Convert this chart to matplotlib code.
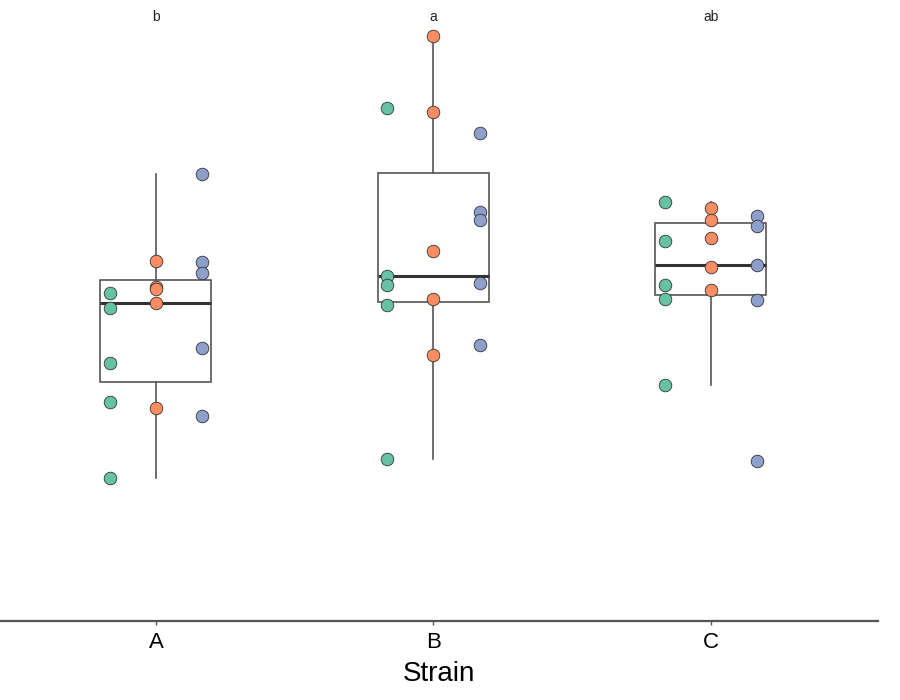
import numpy as np
import matplotlib
matplotlib.use('Agg')
import matplotlib.pyplot as plt

plt.rcParams['font.family'] = ['Liberation Sans', 'DejaVu Sans']

strains = ['A', 'B', 'C']
letters = ['b', 'a', 'ab']
groups = ['g1', 'g2', 'g3']
group_colors = ['#66c2a5', '#fc8d62', '#8da0cb']

# measurements per strain, one list per group
vals_A = [
    [6.56, 6.26, 5.16, 4.38, 2.86],
    [7.20, 6.68, 6.64, 6.36, 4.26],
    [8.94, 7.18, 6.96, 5.46, 4.10],
]
vals_B = [
    [10.25, 6.90, 6.72, 6.31, 3.24],
    [11.69, 10.17, 7.40, 6.43, 5.31],
    [9.75, 8.17, 8.02, 6.75, 5.52],
]
vals_C = [
    [8.38, 7.60, 6.71, 6.43, 4.72],
    [8.25, 8.01, 7.65, 7.07, 6.62],
    [8.09, 7.90, 7.11, 6.41, 3.19],
]
all_vals = [vals_A, vals_B, vals_C]

fig = plt.figure(figsize=(9, 7), dpi=100)
ax = fig.add_axes([0, 0.1129, 0.9756, 0.8871])

pooled = [np.concatenate([np.array(g) for g in v]) for v in all_vals]
pos = np.arange(len(strains))
ax.boxplot(pooled, positions=pos, widths=0.4, showfliers=False,
           patch_artist=True,
           boxprops=dict(facecolor='none', edgecolor='#555555', linewidth=1.2),
           whiskerprops=dict(color='#555555', linewidth=1.2),
           capprops=dict(linewidth=0),
           medianprops=dict(color='#333333', linewidth=2.2),
           zorder=2)

offsets = [-0.167, 0.0, 0.167]
for i, v in enumerate(all_vals):
    for j, g in enumerate(v):
        ax.scatter(np.full(len(g), pos[i] + offsets[j]), g, s=82,
                   color=group_colors[j], edgecolor='#333333',
                   linewidth=0.6, zorder=3)

for i, lab in enumerate(letters):
    ax.text(pos[i], 12.08, lab, ha='center', va='center', fontsize=10,
            color='#222222')

ax.set_xlim(-0.562, 2.602)
ax.set_ylim(0, 12.42)
ax.set_xticks(pos)
ax.set_xticklabels(strains, fontsize=16)
ax.set_xlabel('Strain', fontsize=20, labelpad=6)
ax.set_yticks([])
for s in ['top', 'right', 'left']:
    ax.spines[s].set_visible(False)
ax.spines['bottom'].set_color('#555555')
ax.spines['bottom'].set_linewidth(1.6)
ax.tick_params(axis='x', length=3, width=1, color='#555555', pad=5)

fig.savefig('out.png', dpi=100)
